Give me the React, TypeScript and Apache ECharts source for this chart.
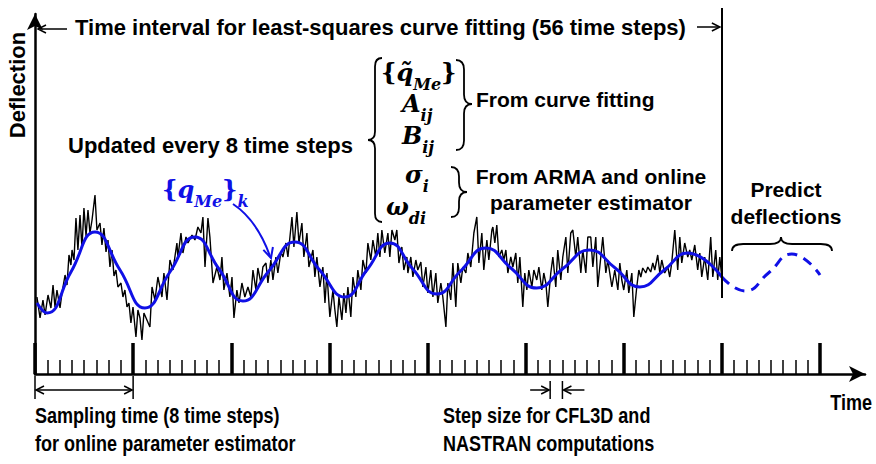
import React, { useEffect, useRef } from "react";
import * as echarts from "echarts";

// ---- Data (time in time steps, deflection in arbitrary units) ----
const noisyTime = [
  0.16, 0.41, 0.65, 0.82, 1.06, 1.3, 1.47, 1.63, 1.79, 2.04, 2.2, 2.45, 2.61, 2.77, 2.93, 3.02, 3.18, 3.34, 3.5, 3.67,
  3.83, 3.99, 4.16, 4.32, 4.48, 4.65, 4.89, 5.05, 5.3, 5.46, 5.62, 5.79, 5.95, 6.11, 6.28, 6.44, 6.6, 6.76, 7.01, 7.17,
  7.33, 7.5, 7.66, 7.82, 7.99, 8.23, 8.39, 8.56, 8.72, 8.88,
  9.37, 9.54, 9.78, 10.02, 10.35, 10.51, 10.76, 11.0, 11.25, 11.57, 11.65, 11.9, 12.06, 12.31, 12.47, 12.8, 13.04,
  13.28, 13.53, 13.69, 13.86, 14.1, 14.26, 14.51, 14.83, 15.08, 15.24, 15.4, 15.65, 15.89, 16.06, 16.22, 16.46, 16.63,
  16.87, 17.11, 17.36, 17.6, 17.77, 18.01, 18.17, 18.42, 18.58,
  18.83, 18.99, 19.23, 19.4, 19.64, 19.8, 20.05, 20.21, 20.46, 20.62, 20.95, 21.11, 21.35, 21.52, 21.76, 21.92, 22.17,
  22.33, 22.66, 22.82, 22.98, 23.23, 23.47, 23.64, 23.8, 24.04, 24.29, 24.45, 24.61, 24.78, 25.02, 25.18, 25.35, 25.51,
  25.75, 25.92, 26.16, 26.32, 26.57, 26.73, 26.98, 27.14, 27.38, 27.55, 27.79,
  27.95, 28.12, 28.28, 28.52, 28.77, 28.93, 29.1, 29.34, 29.5, 29.67, 29.91, 30.07, 30.32, 30.4, 30.64, 30.81, 31.05,
  31.21, 31.46, 31.62, 31.87, 32.03, 32.27, 32.44, 32.68, 32.84, 33.09, 33.25, 33.5, 33.66, 33.9, 34.07, 34.31, 34.47,
  34.72, 34.88, 35.13, 35.29, 35.53, 35.78, 36.02, 36.19, 36.43, 36.59, 36.84, 37.0, 37.25,
  37.33, 37.49, 37.65, 37.82, 38.06, 38.22, 38.39, 38.55, 38.79, 38.96, 39.2, 39.36, 39.53, 39.77, 39.93, 40.1, 40.26,
  40.51, 40.67, 40.91, 41.08, 41.32, 41.48, 41.65, 41.81, 42.05, 42.22, 42.46, 42.62, 42.87, 43.03, 43.28, 43.44, 43.68,
  43.85, 44.09, 44.25, 44.5, 44.66, 44.91, 45.07, 45.31, 45.48, 45.72, 45.88, 46.13, 46.29, 46.54, 46.7,
  47.03, 47.27, 47.52, 47.68, 47.84, 48.0, 48.25, 48.41, 48.66, 48.82, 49.06, 49.23, 49.39, 49.55, 49.8, 49.96, 50.2,
  50.37, 50.53, 50.77, 50.94, 51.1, 51.34, 51.59, 51.75, 51.91, 52.16, 52.4, 52.57, 52.73, 52.97, 53.22, 53.38, 53.55,
  53.79, 54.03, 54.2, 54.36, 54.6, 54.85, 55.09, 55.26, 55.5, 55.66, 55.83, 55.99,
];
const noisyDeflection = [
  77, 56, 74, 59, 79, 66, 89, 67, 84, 66, 81, 99, 89, 119, 109, 124, 114, 156, 124, 159,
  126, 166, 138, 164, 141, 154, 179, 144, 151, 129, 146, 122, 134, 107, 124, 98, 104, 87, 91, 77,
  84, 67, 71, 51, 67, 37, 64, 56, 34, 61,
  47, 87, 74, 97, 77, 101, 74, 114, 104, 131, 117, 141, 121, 137, 131, 139, 134,
  147, 141, 157, 107, 156, 137, 91, 107, 94, 117, 84, 101, 77, 97, 56, 84, 71,
  91, 77, 87, 77, 104, 84, 106, 91, 107,
  111, 91, 114, 94, 117, 101, 122, 117, 131, 117, 157, 127, 162, 131, 151, 117, 141,
  107, 124, 97, 117, 87, 107, 71, 101, 57, 84, 64, 47, 77, 54, 81, 61, 87,
  57, 97, 77, 104, 84, 114, 101, 131, 114, 134, 117,
  141, 117, 144, 121, 141, 117, 144, 134, 144, 111, 127, 104, 117, 101, 117, 97, 114,
  104, 112, 87, 107, 81, 104, 77, 101, 71, 91, 77, 47, 91, 74, 111, 67, 111,
  91, 107, 101, 121, 107, 141, 157, 111, 141, 104, 134, 114, 144,
  147, 131, 149, 117, 124, 114, 124, 101, 117, 107, 121, 91, 117, 67, 101, 84, 104,
  87, 104, 94, 107, 84, 101, 91, 67, 101, 117, 87, 124, 94, 117, 137, 101, 141,
  144, 117, 137, 101, 124, 101, 137, 137, 107, 137, 87, 117, 137, 101, 114,
  87, 104, 84, 111, 94, 84, 104, 81, 101, 57, 87, 104, 97, 106, 101, 107, 102,
  111, 104, 119, 101, 114, 101, 107, 97, 111, 144, 104, 137, 111, 131, 117, 124, 114,
  129, 104, 121, 97, 117, 94, 137, 97, 124, 94, 117, 97,
];
const fitTime = [0.16, 0.98, 2.93, 4.89, 6.93, 8.96, 11.0, 13.04, 15.0, 16.95, 19.07, 21.19, 23.2, 25.26, 27.06, 28.93, 30.8, 32.76, 34.7, 36.76, 38.8, 40.9, 43.0, 45.2, 47.3, 49.3, 51.3, 53.2, 56.0];
const fitDeflection = [71, 61, 102, 142, 104, 66, 102, 137, 105, 73, 103, 132, 104, 77, 104, 131, 105, 80, 103, 126, 106, 86, 105, 124, 106, 87, 104, 121, 97];
const predTime = [56.0, 57.9, 59.8, 61.7, 64.0];
const predDeflection = [97, 83, 101, 120, 99];

const STEPS_PER_SAMPLE = 8;
const TOTAL_STEPS = 64;
const FIT_STEPS = 56;
const FIT_LINE_BOTTOM = 76;
const DEFLECTION_MAX = 366;

const SANS = "'Liberation Sans', Arial, sans-serif";
const SERIF = "'DejaVu Serif', serif";
const BLUE = "#1010e6";

function zip(a: number[], b: number[]) {
  return a.map((t, i) => [t, b[i]]);
}

function vBrace(armX: number, tipX: number, y0: number, y1: number, yMid: number) {
  const sx = (armX + tipX) / 2;
  const q = Math.abs(armX - tipX) * 0.6;
  return `M${armX} ${y0} Q${sx} ${y0} ${sx} ${y0 + q} L${sx} ${yMid - q} Q${sx} ${yMid} ${tipX} ${yMid} Q${sx} ${yMid} ${sx} ${yMid + q} L${sx} ${y1 - q} Q${sx} ${y1} ${armX} ${y1}`;
}
function hBrace(x0: number, x1: number, armY: number, tipY: number, xMid: number) {
  const sy = (armY + tipY) / 2;
  const q = Math.abs(armY - tipY) * 0.8;
  return `M${x0} ${armY} Q${x0} ${sy} ${x0 + q} ${sy} L${xMid - q} ${sy} Q${xMid} ${sy} ${xMid} ${tipY} Q${xMid} ${sy} ${xMid + q} ${sy} L${x1 - q} ${sy} Q${x1} ${sy} ${x1} ${armY}`;
}

function txt(text: string, x: number, y: number, o: any = {}) {
  const align = o.align || "left";
  return {
    type: "text",
    x,
    y,
    rotation: o.rotation || 0,
    scaleX: o.scaleX || 1,
    silent: true,
    z: 10,
    style: {
      text,
      fill: o.color || "#000",
      fontFamily: o.family || SANS,
      fontSize: o.size || 21,
      fontWeight: o.weight || "bold",
      fontStyle: o.italic ? "italic" : "normal",
      align,
      textAlign: align,
      verticalAlign: "middle",
      textVerticalAlign: "middle",
    },
  };
}
function mathTxt(text: string, x: number, y: number, color = "#000") {
  const base = { fontFamily: SERIF, fontWeight: "bold", fill: color };
  return {
    type: "text",
    x,
    y,
    silent: true,
    z: 10,
    style: {
      text,
      fill: color,
      fontFamily: SERIF,
      fontSize: 24,
      fontWeight: "bold",
      lineHeight: 40,
      align: "left",
      textAlign: "left",
      verticalAlign: "middle",
      textVerticalAlign: "middle",
      rich: {
        b: { ...base, fontStyle: "italic", fontSize: 24, lineHeight: 40 },
        s: { ...base, fontStyle: "italic", fontSize: 16, lineHeight: 18, verticalAlign: "bottom" },
        m: { ...base, fontStyle: "italic", fontSize: 16, lineHeight: 30, verticalAlign: "bottom" },
      },
    },
  };
}
function ln(x1: number, y1: number, x2: number, y2: number, w = 1.5, color = "#000") {
  return { type: "line", silent: true, z: 10, shape: { x1, y1, x2, y2 }, style: { stroke: color, lineWidth: w } };
}
function head(tx: number, ty: number, dx: number, dy: number, len = 8, hw = 4, w = 1.5, color = "#000") {
  const n = Math.hypot(dx, dy);
  const ux = dx / n, uy = dy / n;
  const bx = tx - ux * len, by = ty - uy * len;
  return {
    type: "polyline",
    silent: true,
    z: 10,
    shape: { points: [[bx - uy * hw, by + ux * hw], [tx, ty], [bx + uy * hw, by - ux * hw]] },
    style: { stroke: color, lineWidth: w, fill: null },
  };
}

export default function App() {
  const ref = useRef<HTMLDivElement>(null);
  useEffect(() => {
    if (!ref.current) return;
    const chart = echarts.init(ref.current, null, { renderer: "svg" });
    chart.setOption({
      animation: false,
      backgroundColor: "#fff",
      grid: [
        { left: 35, right: 11, top: 14, bottom: 90 },
        { left: 35, right: 56, top: 8, bottom: 90 },
      ],
      xAxis: [
        {
          gridIndex: 0, type: "value", min: 0, max: 1,
          axisLine: { show: true, onZero: false, symbol: ["none", "arrow"], symbolSize: [12, 16], lineStyle: { color: "#000", width: 2.5 } },
          axisTick: { show: false }, axisLabel: { show: false }, splitLine: { show: false },
        },
        {
          gridIndex: 1, type: "value", min: 0, max: TOTAL_STEPS, interval: STEPS_PER_SAMPLE,
          axisLine: { show: false },
          axisTick: { show: true, inside: true, length: 31, lineStyle: { color: "#000", width: 3.5 } },
          minorTick: { show: true, splitNumber: STEPS_PER_SAMPLE, length: 14, lineStyle: { color: "#000", width: 1.5 } },
          axisLabel: { show: false }, splitLine: { show: false }, minorSplitLine: { show: false },
        },
      ],
      yAxis: [
        {
          gridIndex: 0, type: "value", min: 0, max: 1,
          axisLine: { show: true, onZero: false, symbol: ["none", "arrow"], symbolSize: [12, 16], lineStyle: { color: "#000", width: 2.5 } },
          axisTick: { show: false }, axisLabel: { show: false }, splitLine: { show: false },
        },
        { gridIndex: 1, type: "value", min: 0, max: DEFLECTION_MAX, show: false, splitLine: { show: false } },
      ],
      series: [
        {
          type: "line", xAxisIndex: 1, yAxisIndex: 1, data: zip(noisyTime, noisyDeflection),
          showSymbol: false, symbol: "none", lineStyle: { color: "#000", width: 1.4 }, z: 2,
          markLine: {
            silent: true, symbol: ["none", "none"], label: { show: false },
            lineStyle: { color: "#000", width: 2, type: "solid" },
            data: [[{ coord: [FIT_STEPS, FIT_LINE_BOTTOM] }, { coord: [FIT_STEPS, DEFLECTION_MAX] }]],
          },
        },
        {
          type: "line", xAxisIndex: 1, yAxisIndex: 1, data: zip(fitTime, fitDeflection),
          showSymbol: false, symbol: "none", smooth: 0.5, lineStyle: { color: BLUE, width: 3 }, z: 3,
        },
        {
          type: "line", xAxisIndex: 1, yAxisIndex: 1, data: zip(predTime, predDeflection),
          showSymbol: false, symbol: "none", smooth: 0.5, lineStyle: { color: BLUE, width: 3, type: [10, 7] }, z: 3,
        },
      ],
    });

    const px = (t: number, v: number) => chart.convertToPixel({ gridIndex: 1 } as any, [t, v]) as number[];
    const [xs0, axisY] = px(0, 0);
    const xs8 = px(STEPS_PER_SAMPLE, 0)[0];
    const xa = px(42, 0)[0];
    const xb = px(43, 0)[0];
    const xFit = px(FIT_STEPS, 0)[0];

    const shapes: [string, string][] = [
      ["braceBig", vBrace(382, 368, 58, 222, 140)],
      ["braceFit", vBrace(456, 472, 60, 150, 104)],
      ["braceArma", vBrace(451, 467, 167, 217, 192)],
      ["bracePred", hBrace(732, 832, 251, 237, 781)],
    ];
    const braceEls = shapes.map(([name, d]) => {
      echarts.graphic.registerShape(name, echarts.graphic.extendPath(d, {}) as any);
      return { type: name, silent: true, z: 10, style: { stroke: "#000", fill: "none", lineWidth: 1.8 } };
    });

    const BOTTOM = { scaleX: 0.82, size: 22 };
    const graphic: any[] = [
      txt("Deflection", 17, 85, { rotation: Math.PI / 2, align: "center", size: 22 }),
      txt("Time interval for least-squares curve fitting (56 time steps)", 75, 27, { size: 22 }),
      ln(40, 29, 67, 29), head(38, 29, -1, 0),
      ln(697, 27, xFit - 3, 27), head(xFit - 2, 27, 1, 0),
      txt("Updated every 8 time steps", 68, 145, { size: 22 }),
      ...braceEls,
      mathTxt("{{b|q\u0303}{m|Me}}", 381, 72),
      mathTxt("{b|A}{s|ij}", 402, 103),
      mathTxt("{b|B}{s|ij}", 402, 135),
      mathTxt("{b|\u03c3}{s|i}", 405, 174),
      mathTxt("{b|\u03c9}{s|di}", 386, 206),
      txt("From curve fitting", 476, 99),
      txt("From ARMA and online", 591, 176, { align: "center" }),
      txt("parameter estimator", 591, 202, { align: "center" }),
      txt("Predict", 786, 189, { align: "center" }),
      txt("deflections", 786, 216, { align: "center" }),
      mathTxt("{{b|q}{m|Me}}{s|k}", 162, 189, BLUE),
      {
        type: "bezierCurve", silent: true, z: 10,
        shape: { x1: 233, y1: 204, cpx1: 257, cpy1: 220, x2: 270, y2: 256 },
        style: { stroke: BLUE, lineWidth: 2, fill: null },
      },
      head(271, 258, 0.3, 1, 10, 5, 2, BLUE),
      // sampling bracket
      ln(xs0, axisY + 2, xs0, axisY + 25), ln(xs8, axisY + 2, xs8, axisY + 25),
      ln(xs0 + 2, axisY + 16, xs8 - 2, axisY + 16),
      head(xs0 + 1, axisY + 16, -1, 0), head(xs8 - 1, axisY + 16, 1, 0),
      // step size bracket
      ln(xa, axisY + 7, xa, axisY + 25), ln(xb, axisY + 7, xb, axisY + 25),
      ln(xa - 20, axisY + 16, xa - 2, axisY + 16), head(xa - 1, axisY + 16, 1, 0),
      ln(xb + 22, axisY + 16, xb + 2, axisY + 16), head(xb + 1, axisY + 16, -1, 0),
      txt("Time", 872, 402, { align: "right", ...BOTTOM }),
      txt("Sampling time (8 time steps)", 35, 415, BOTTOM),
      txt("for online parameter estimator", 35, 443, BOTTOM),
      txt("Step size for CFL3D and", 443, 415, BOTTOM),
      txt("NASTRAN computations", 443, 443, BOTTOM),
    ];
    chart.setOption({ graphic });
    return () => chart.dispose();
  }, []);
  return (
    <div
      ref={ref}
      style={{ position: "fixed", left: 0, top: 0, width: 876, height: 464, background: "#fff" }}
    />
  );
}
